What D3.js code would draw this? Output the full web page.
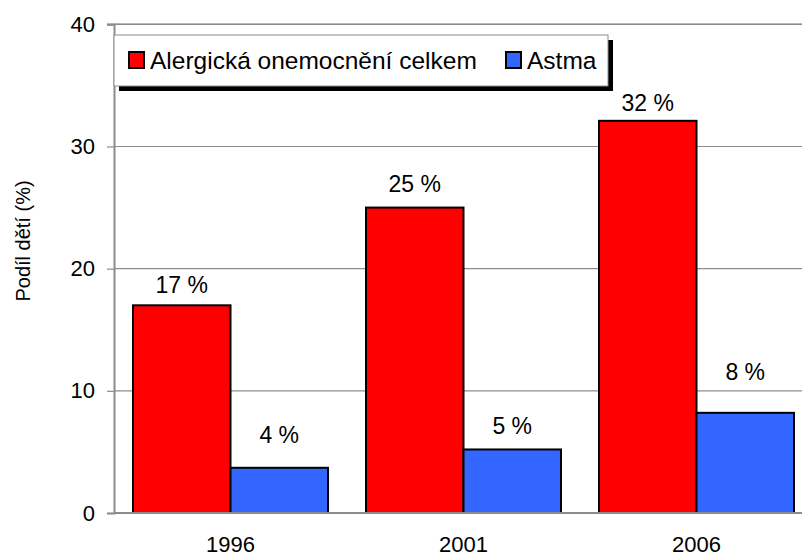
<!DOCTYPE html>
<html>
<head>
<meta charset="utf-8">
<script src="https://cdn.jsdelivr.net/npm/d3@7"></script>
<style>
  body { margin: 0; background: #fff; }
  svg { display: block; font-family: "Liberation Sans", Arial, sans-serif; }
</style>
</head>
<body>
<svg width="802" height="557"></svg>
<script>
// data
var years = ["1996", "2001", "2006"];
var series = ["Alergická onemocnění celkem", "Astma"];
var allergy = [17.0, 25.0, 32.1];
var asthma = [3.7, 5.2, 8.2];
var allergyLabels = ["17 %", "25 %", "32 %"];
var asthmaLabels = ["4 %", "5 %", "8 %"];
// level (in % units) where each value label sits, as placed in the original
var allergyLabelAt = [18.0, 26.3, 32.9];
var asthmaLabelAt = [5.7, 6.5, 10.9];
var yTicks = [0, 10, 20, 30, 40];
var colors = ["#ff0000", "#3366ff"];

var svg = d3.select("svg"),
    plotLeft = 114, plotRight = 813, plotTop = 24.3, plotBottom = 513;

var x = d3.scaleBand()
    .domain(years)
    .range([plotLeft, plotRight])
    .paddingInner(0)
    .paddingOuter(0);

var inner = d3.scaleBand()
    .domain(series)
    .range([0, x.bandwidth()])
    .paddingOuter(0.195)
    .paddingInner(0);

var y = d3.scaleLinear()
    .domain([0, 40])
    .range([plotBottom, plotTop]);

// gridlines
svg.append("g")
  .selectAll("line")
  .data(yTicks.slice(1))
  .enter().append("line")
    .attr("x1", plotLeft)
    .attr("x2", plotRight)
    .attr("y1", function(d) { return y(d); })
    .attr("y2", function(d) { return y(d); })
    .attr("stroke", "#8c8c8c")
    .attr("stroke-width", 1.2);

// y axis
var yAxis = svg.append("g")
    .attr("transform", "translate(" + plotLeft + ",0)")
    .call(d3.axisLeft(y).tickValues(yTicks).tickSize(7).tickPadding(12));
yAxis.select(".domain").attr("stroke", "#8c8c8c").attr("stroke-width", 2);
yAxis.selectAll(".tick line").attr("stroke", "#8c8c8c").attr("stroke-width", 1.2);
yAxis.selectAll(".tick text")
    .attr("font-size", 22)
    .attr("fill", "#000")
    .style("font-family", "Liberation Sans, Arial, sans-serif");

// bars
var rows = years.map(function(yr, i) {
  return { year: yr, values: [
    { key: series[0], v: allergy[i], label: allergyLabels[i], at: allergyLabelAt[i], c: colors[0] },
    { key: series[1], v: asthma[i], label: asthmaLabels[i], at: asthmaLabelAt[i], c: colors[1] }
  ]};
});

var groups = svg.append("g")
  .selectAll("g")
  .data(rows)
  .enter().append("g")
    .attr("transform", function(d) { return "translate(" + x(d.year) + ",0)"; });

groups.selectAll("rect")
  .data(function(d) { return d.values; })
  .enter().append("rect")
    .attr("x", function(d) { return inner(d.key); })
    .attr("width", inner.bandwidth())
    .attr("y", function(d) { return y(d.v); })
    .attr("height", function(d) { return y(0) - y(d.v); })
    .attr("fill", function(d) { return d.c; })
    .attr("stroke", "#000")
    .attr("stroke-width", 2);

groups.selectAll("text")
  .data(function(d) { return d.values; })
  .enter().append("text")
    .attr("x", function(d) { return inner(d.key) + inner.bandwidth() / 2; })
    .attr("y", function(d) { return y(d.at); })
    .attr("text-anchor", "middle")
    .attr("font-size", 23)
    .text(function(d) { return d.label; });

// x axis line
svg.append("line")
    .attr("x1", plotLeft).attr("x2", plotRight)
    .attr("y1", plotBottom).attr("y2", plotBottom)
    .attr("stroke", "#8c8c8c")
    .attr("stroke-width", 2);

// top border of plot area
svg.append("line")
    .attr("x1", plotLeft - 7).attr("x2", plotRight)
    .attr("y1", plotTop).attr("y2", plotTop)
    .attr("stroke", "#8c8c8c")
    .attr("stroke-width", 1.5);

svg.append("g")
  .selectAll("text")
  .data(years)
  .enter().append("text")
    .attr("x", function(d) { return x(d) + x.bandwidth() / 2; })
    .attr("y", 552)
    .attr("text-anchor", "middle")
    .attr("font-size", 22)
    .text(function(d) { return d; });

// y axis title
svg.append("text")
    .attr("transform", "translate(30,241) rotate(-90)")
    .attr("text-anchor", "middle")
    .attr("font-size", 20)
    .text("Podíl dětí (%)");

// legend
var lg = svg.append("g").attr("transform", "translate(114,35)");
lg.append("rect")
    .attr("x", 5).attr("y", 5)
    .attr("width", 494).attr("height", 51)
    .attr("fill", "#000");
lg.append("rect")
    .attr("x", 0).attr("y", 0)
    .attr("width", 494).attr("height", 51)
    .attr("fill", "#fff")
    .attr("stroke", "#8c8c8c")
    .attr("stroke-width", 1);

var legendX = [15, 392];
series.forEach(function(s, i) {
  lg.append("rect")
      .attr("x", legendX[i]).attr("y", 17)
      .attr("width", 15).attr("height", 16)
      .attr("fill", colors[i])
      .attr("stroke", "#000")
      .attr("stroke-width", 2);
  lg.append("text")
      .attr("x", legendX[i] + 21)
      .attr("y", 34)
      .attr("font-size", 24.5)
      .text(s);
});
</script>
</body>
</html>
